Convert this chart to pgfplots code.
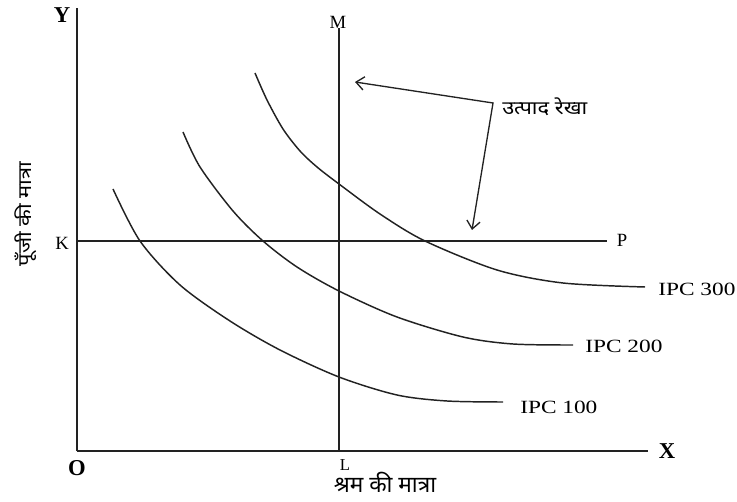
\documentclass[border=0pt]{standalone}
\usepackage{fontspec}
\setmainfont{Liberation Serif}
\newfontfamily\hindi[Script=Devanagari]{Noto Sans}
\usepackage{pgfplots}
\pgfplotsset{compat=1.18}
\usetikzlibrary{arrows.meta}
\definecolor{ink}{HTML}{222222}
\begin{document}
\begin{tikzpicture}
\begin{axis}[
  x=0.75pt, y=0.75pt,
  xmin=77, xmax=648, ymin=0, ymax=443,
  axis lines=left,
  axis line style={-, line width=1.5pt, ink},
  xtick=\empty, ytick=\empty,
  clip=false,
]
\coordinate (bl) at (axis cs:0,-51);
\coordinate (tr) at (axis cs:737,451);
% M-L vertical line and K-P horizontal line
\addplot[ink, line width=1.1pt] coordinates {(339,0) (339,423)};
\addplot[ink, line width=1.1pt] coordinates {(77,210) (607,210)};
% IPC 300
\addplot[ink, line width=1.1pt, smooth, tension=0.5] coordinates {
(255,378) (267,351) (283,322) (300,300) (317,284) (339,267) (380,237) (425,210) (497,181) (563,168) (645,164)};
% IPC 200
\addplot[ink, line width=1.1pt, smooth, tension=0.5] coordinates {
(183,319) (200,284) (233,240) (263,210) (297,184) (339,160) (397,134) (463,114) (513,107) (573,106)};
% IPC 100
\addplot[ink, line width=1.1pt, smooth, tension=0.5] coordinates {
(113,262) (140,210) (180,166) (230,130) (280,101) (339,74) (397,56) (447,50) (503,49)};
% arrows
\addplot[ink, line width=1.0pt, {Straight Barb[length=6pt,width=10pt]}-{Straight Barb[length=6pt,width=10pt]}] coordinates {(355,369) (493,348) (472,221)};
% labels
\node[font=\bfseries\fontsize{17}{19}\selectfont] at (axis cs:62,436) {Y};
\node[font=\bfseries\fontsize{17}{19}\selectfont] at (axis cs:77,-17) {O};
\node[font=\bfseries\fontsize{17}{19}\selectfont] at (axis cs:667,0) {X};
\node[font=\fontsize{14}{16}\selectfont] at (axis cs:338,429) {M};
\node[font=\fontsize{14}{16}\selectfont] at (axis cs:62,208) {K};
\node[font=\fontsize{12.5}{14}\selectfont] at (axis cs:345,-14) {L};
\node[font=\fontsize{14}{16}\selectfont] at (axis cs:622,211) {P};
\node[anchor=west, inner sep=0pt, font=\fontsize{14}{16}\selectfont] at (axis cs:658,162) {\scalebox{1.25}[1]{IPC 300}};
\node[anchor=west, inner sep=0pt, font=\fontsize{14}{16}\selectfont] at (axis cs:585,105) {\scalebox{1.25}[1]{IPC 200}};
\node[anchor=west, inner sep=0pt, font=\fontsize{14}{16}\selectfont] at (axis cs:520,44) {\scalebox{1.25}[1]{IPC 100}};
\node[anchor=west, inner sep=0pt, font=\hindi\fontsize{14}{16}\selectfont] at (axis cs:502,344) {\scalebox{1.17}[1]{उत्पाद रेखा}};
\node[font=\hindi\bfseries\fontsize{17}{20}\selectfont, inner sep=4pt] at (axis cs:385,-31) {श्रम की मात्रा};
\node[rotate=90, font=\hindi\bfseries\fontsize{14}{16}\selectfont] at (axis cs:26,237) {\scalebox{1.17}[1]{पूँजी की मात्रा}};
\end{axis}
\path (bl) rectangle (tr);
\end{tikzpicture}
\end{document}
